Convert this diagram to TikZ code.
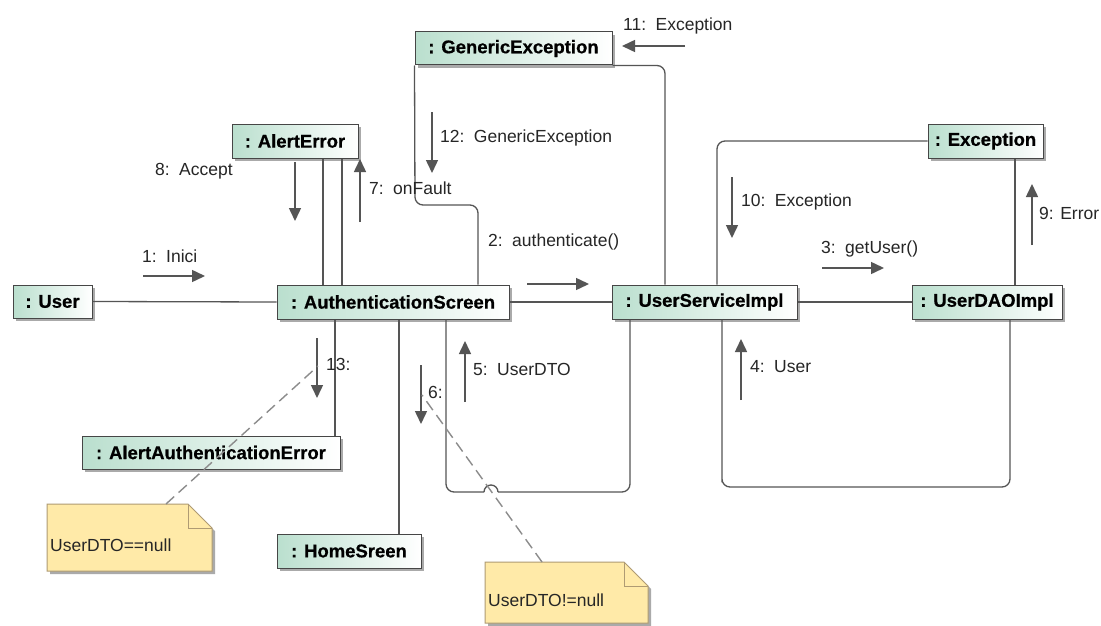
\documentclass[tikz,border=0pt]{standalone}
\usepackage{fontspec}
\setmainfont{Liberation Sans}
\newfontfamily\boxfont{Liberation Sans Bold}[FakeBold=0.6]
\usetikzlibrary{arrows.meta,shadows}

\definecolor{boxgreen}{RGB}{186,223,206}
\definecolor{boxline}{RGB}{70,70,70}
\definecolor{wire}{RGB}{85,85,85}
\definecolor{notefill}{RGB}{255,234,168}
\definecolor{noteline}{RGB}{175,155,115}
\definecolor{shadowgray}{RGB}{170,170,170}

\tikzset{
  umlbox/.style={draw=boxline, line width=1pt, left color=boxgreen, right color=white,
    inner sep=0pt, font=\boxfont\fontsize{18.5}{20}\selectfont,
    drop shadow={shadow xshift=3pt, shadow yshift=-3pt, fill=shadowgray, opacity=1}},
  link/.style={draw=wire, line width=1.3pt},
  msg/.style={draw=wire, line width=1.5pt, -{Triangle[length=13pt,width=12pt]}},
  msglabel/.style={anchor=west, inner sep=0pt, text=black!85, font=\fontsize{17.5}{20}\selectfont},
  notelink/.style={draw=black!45, line width=1.4pt, dash pattern=on 11pt off 6pt},
  notebody/.style={fill=notefill, draw=noteline, line width=1pt},
}

% message arrow: name, start, end, label position, label text
\newcommand\msgarrow[5]{%
  \coordinate (#1s) at (#2);
  \coordinate (#1e) at (#3);
  \draw[msg] (#1s) -- (#1e);
  \node[msglabel] (#1l) at (#4) {#5};}

% note: name, x1, y1, x2, y2, text
\newcommand\umlnote[6]{%
  \fill[shadowgray] (#2+3,#3+3) -- (#4-24+3,#3+3) -- (#4+3,#3+24+3) -- (#4+3,#5+3) -- (#2+3,#5+3) -- cycle;
  \path[notebody] (#2,#3) -- (#4-24,#3) -- (#4,#3+24) -- (#4,#5) -- (#2,#5) -- cycle;
  \draw[noteline, line width=1pt] (#4-24,#3) -- (#4-24,#3+24) -- (#4,#3+24);
  \node[msglabel] (#1) at (#2+3,{(#3+#5)/2+8}) {#6};}

\begin{document}
\begin{tikzpicture}[x=1pt,y=-1pt]
\useasboundingbox[fill=white] (0,0) rectangle (1101,626);

% objects
\node[umlbox, minimum width=79pt,  minimum height=33pt] (U)   at (52.5,301.5) {: User};
\node[umlbox, minimum width=232pt, minimum height=34pt] (AS)  at (393,302)    {: AuthenticationScreen};
\node[umlbox, minimum width=185pt, minimum height=34pt] (USI) at (704.5,302)  {: UserServiceImpl};
\node[umlbox, minimum width=150pt, minimum height=34pt] (DAO) at (987,302)    {: UserDAOImpl};
\node[umlbox, minimum width=115pt, minimum height=34pt] (EX)  at (985.5,141)  {: Exception};
\node[umlbox, minimum width=126pt, minimum height=34pt] (AE)  at (295,141)    {: AlertError};
\node[umlbox, minimum width=197pt, minimum height=33pt] (GE)  at (513.5,48.5) {: GenericException};
\node[umlbox, minimum width=258pt, minimum height=33pt] (AAE) at (211,452.5)  {: AlertAuthenticationError};
\node[umlbox, minimum width=144pt, minimum height=34pt] (HS)  at (349,551)    {: HomeSreen};

% vertical guide positions of the links
\coordinate (xAE1) at (323,0);
\coordinate (xAE2) at (342,0);
\coordinate (xAAE) at (335,0);
\coordinate (xHS)  at (399,0);
\coordinate (xGEl) at (478,0);
\coordinate (xGEr) at (665,0);
\coordinate (xLpA) at (446,0);
\coordinate (xLpB) at (630,0);
\coordinate (xLpC) at (722,0);
\coordinate (xLpD) at (1010,0);
\coordinate (xEXl) at (717,0);
\coordinate (xEXd) at (1015,0);
\coordinate (cGE)  at (415,205);
\coordinate (cGE2) at (478,205);

% links
\draw[link] (U.east) -- (AS.west);
\draw[link] (AS.east) -- (USI.west);
\draw[link] (USI.east) -- (DAO.west);
\draw[link] (AE.south -| xAE1) -- (AS.north -| xAE1);
\draw[link] (AE.south -| xAE2) -- (AS.north -| xAE2);
\draw[link] (AS.south -| xAAE) -- (AAE.north -| xAAE);
\draw[link] (AS.south -| xHS) -- (HS.north -| xHS);
\draw[link, rounded corners=8pt] (GE.south west) -- (cGE) -- (cGE2) -- (AS.north -| xGEl);
\draw[link, rounded corners=8pt] (GE.south east) -| (USI.north -| xGEr);
\draw[link, rounded corners=8pt] (EX.west) -| (USI.north -| xEXl);
\draw[link] (EX.south -| xEXd) -- (DAO.north -| xEXd);
\coordinate (hopL) at (484,492);
\coordinate (hopR) at (498,492);
\draw[link, rounded corners=8pt] (AS.south -| xLpA) |- (hopL);
\draw[link] (hopL) arc[start angle=180, end angle=360, radius=7];
\draw[link, rounded corners=8pt] (hopR) -| (USI.south -| xLpB);
\coordinate (lpC) at (722,487);
\draw[link, rounded corners=8pt] (USI.south -| xLpC) |- (lpC) -| (DAO.south -| xLpD);

% messages
\msgarrow{m1}{143,276}{205,276}{142,256}{1: \,Inici}
\msgarrow{m2}{527,284}{589,284}{488,242}{2: \,authenticate()}
\msgarrow{m3}{822,268}{884,268}{821,249}{3: \,getUser()}
\msgarrow{m4}{741,400}{741,339}{750,367}{4: \,User}
\msgarrow{m5}{465,402}{465,341}{473,369}{5: \,UserDTO}
\msgarrow{m6}{421,365}{421,424}{428,392}{6:}
\msgarrow{m7}{360,222}{360,159}{369,188}{7: \,onFault}
\msgarrow{m8}{295,162}{295,221}{155,171}{8: \,Accept}
\msgarrow{m9}{1032,245}{1032,184}{1039,213}{9: Error}
\msgarrow{m10}{732,177}{732,238}{741,202}{10: \,Exception}
\msgarrow{m11}{685,46}{622,46}{623,26}{11: \,Exception}
\msgarrow{m12}{432,112}{432,173}{440,138}{12: \,GenericException}
\msgarrow{m13}{317,338}{317,398}{326,364}{13:}

% notes and their anchors
\umlnote{N1}{47}{504}{212}{571}{UserDTO==null}
\umlnote{N2}{485}{562}{648}{623}{UserDTO!=null}
\coordinate (n1a) at (166,504);
\coordinate (n1b) at (318,366);
\coordinate (n2a) at (542,562);
\coordinate (n2b) at (422,395);
\draw[notelink] (n1a) -- (n1b);
\draw[notelink] (n2a) -- (n2b);
\end{tikzpicture}
\end{document}
